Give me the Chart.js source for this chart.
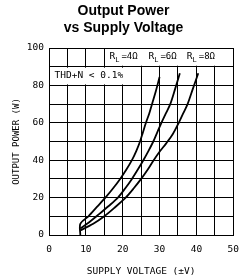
<!DOCTYPE html>
<html>
<head>
<meta charset="utf-8">
<script src="https://cdn.jsdelivr.net/npm/chart.js@4/dist/chart.umd.min.js"></script>
<style>
  html, body { margin: 0; padding: 0; background: #fff; }
  #wrap { width: 248px; height: 277px; }
</style>
</head>
<body>
<div id="wrap"><canvas id="myChart" width="248" height="277"></canvas></div>
<script>
// data (supply voltage in ±V, output power in W)
const volts4 = [8.5, 8.5, 10.7, 13, 15.3, 17.4, 19.3, 21, 22.5, 23.7, 24.7, 25.5, 26.3, 27.2, 28.1, 29, 30];
const power4 = [0, 6, 10, 15, 20, 25, 30, 35, 40, 45, 50, 55, 60, 65, 71, 77, 84.5];

const volts6 = [8.5, 11, 13.5, 16.2, 18.7, 20.7, 22.5, 24.1, 25.6, 27, 28.3, 29.4, 30.5, 31.7, 32.9, 34.2, 35.5];
const power6 = [3.5, 7, 11, 15.5, 20, 25, 30, 35, 40, 45, 50, 55, 60, 65, 70, 78, 86.5];

const volts8 = [8.5, 12, 15, 18, 20.8, 23, 25, 26.8, 28.4, 30, 31.8, 33.6, 35.2, 36.4, 37.6, 39, 40.5];
const power8 = [2.5, 6, 10, 15, 20, 25, 30, 35, 40, 44.5, 49, 54, 60, 65, 70, 78, 86.5];

const loadLabels = ['4Ω', '6Ω', '8Ω'];
const xTicks = [0, 10, 20, 30, 40, 50];
const yTicks = [0, 20, 40, 60, 80, 100];

const toPoints = (xs, ys) => xs.map((v, i) => ({ x: v, y: ys[i] }));

const FONT = 'DejaVu Sans Mono';

// white boxes with the load labels and the THD note
const notesPlugin = {
    id: 'notes',
    beforeDatasetsDraw(chart) {
        const { ctx, scales: { x, y } } = chart;
        ctx.save();
        ctx.fillStyle = '#fff';
        // top row, right part
        ctx.fillRect(x.getPixelForValue(15) + 1, y.getPixelForValue(100) + 1,
            x.getPixelForValue(50) - x.getPixelForValue(15) - 2,
            y.getPixelForValue(90) - y.getPixelForValue(100) - 2);
        // second row, left part
        ctx.fillRect(x.getPixelForValue(0) + 1, y.getPixelForValue(90) + 1,
            x.getPixelForValue(23) - x.getPixelForValue(0),
            y.getPixelForValue(80) - y.getPixelForValue(90) - 2);

        ctx.fillStyle = '#000';
        ctx.textBaseline = 'middle';
        ctx.textAlign = 'left';

        const starts = [16.4, 27, 37.4];
        const ty = y.getPixelForValue(95.3);
        loadLabels.forEach((lbl, i) => {
            let px = x.getPixelForValue(starts[i]);
            ctx.font = '9.5px ' + FONT;
            ctx.fillText('R', px, ty);
            px += ctx.measureText('R').width;
            ctx.font = '7px ' + FONT;
            ctx.fillText('L', px, ty + 3);
            px += ctx.measureText('L').width + 2;
            ctx.font = '9px ' + FONT;
            ctx.fillText('=' + lbl, px, ty);
        });

        ctx.font = '9.5px ' + FONT;
        ctx.fillText('THD+N < 0.1%', x.getPixelForValue(1.5), y.getPixelForValue(85.4));
        ctx.restore();
    }
};

const lineStyle = {
    borderColor: '#000',
    borderWidth: 1.8,
    pointRadius: 0,
    tension: 0.3,
    fill: false
};

const ctx = document.getElementById('myChart');

new Chart(ctx, {
    type: 'scatter',
    data: {
        datasets: [
            { label: 'RL = 4Ω', data: toPoints(volts4, power4), showLine: true, ...lineStyle },
            { label: 'RL = 6Ω', data: toPoints(volts6, power6), showLine: true, ...lineStyle },
            { label: 'RL = 8Ω', data: toPoints(volts8, power8), showLine: true, ...lineStyle }
        ]
    },
    options: {
        responsive: false,
        animation: false,
        devicePixelRatio: 1,
        layout: { padding: { left: 11, right: 12, top: 0, bottom: 0 } },
        plugins: {
            legend: { display: false },
            tooltip: { enabled: false },
            title: {
                display: true,
                text: ['Output Power', 'vs Supply Voltage'],
                color: '#000',
                font: { family: 'Liberation Sans', size: 14, weight: 'bold', lineHeight: 1.25 },
                padding: { top: 2, bottom: 11 }
            }
        },
        scales: {
            x: {
                type: 'linear',
                min: 0,
                max: 50,
                afterFit: (scale) => { scale.height = 42; },
                grid: { color: '#000', lineWidth: 1, drawTicks: false },
                border: { color: '#000', width: 1 },
                ticks: {
                    stepSize: 5,
                    padding: 9,
                    maxRotation: 0,
                    autoSkip: false,
                    color: '#000',
                    font: { family: FONT, size: 9.5 },
                    callback: (v) => xTicks.includes(v) ? String(v) : ''
                },
                title: {
                    display: true,
                    text: 'SUPPLY VOLTAGE (±V)',
                    color: '#000',
                    font: { family: FONT, size: 9.5 },
                    padding: { top: 3, bottom: 0 }
                }
            },
            y: {
                type: 'linear',
                min: 0,
                max: 100,
                afterFit: (scale) => { scale.width = 38; },
                grid: { color: '#000', lineWidth: 1, drawTicks: false },
                border: { color: '#000', width: 1 },
                ticks: {
                    stepSize: 10,
                    padding: 5,
                    autoSkip: false,
                    color: '#000',
                    font: { family: FONT, size: 9.5 },
                    callback: (v) => yTicks.includes(v) ? String(v) : ''
                },
                title: {
                    display: true,
                    text: 'OUTPUT POWER (W)',
                    color: '#000',
                    font: { family: FONT, size: 9 },
                    padding: { top: 0, bottom: 2 }
                }
            }
        }
    },
    plugins: [notesPlugin]
});
</script>
</body>
</html>
